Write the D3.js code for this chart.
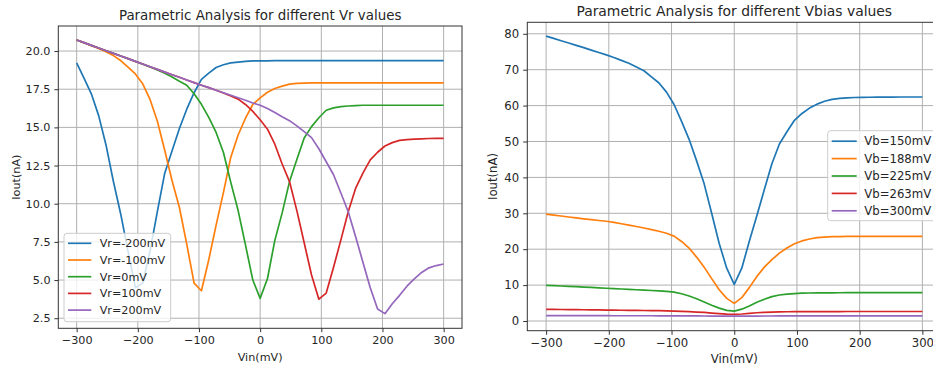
<!DOCTYPE html>
<html>
<head>
<meta charset="utf-8">
<script src="https://cdn.jsdelivr.net/npm/d3@7"></script>
<style>
body { margin: 0; background: #fff; }
svg text { font-family: "DejaVu Sans", sans-serif; fill: #262626; }
</style>
</head>
<body>
<svg id="chart" width="933" height="369"></svg>
<script>
// sweep points, Vin in mV
var vin = [-300,-288,-276,-264,-252,-240,-228,-216,-204,-192,-180,-168,-156,-144,-132,-120,-108,-96,-84,-72,-60,-48,-36,-24,-12,
           0,12,24,36,48,60,72,84,96,108,120,132,144,156,168,180,192,204,216,228,240,252,264,276,288,300];
var vinTicks = [-300,-200,-100,0,100,200,300];

// left panel: Iout(nA) for different Vr
var vrNames = ["Vr=-200mV","Vr=-100mV","Vr=0mV","Vr=100mV","Vr=200mV"];
var vrM200 = [19.23,18.22,17.2,15.77,13.85,11.47,9.33,6.9,4.5,4.8,6.9,9.5,12.0,13.47,14.93,16.19,17.27,18.14,18.55,18.92,19.1,19.22,19.28,19.32,19.35,
              19.36,19.36,19.37,19.37,19.37,19.37,19.37,19.37,19.37,19.37,19.37,19.37,19.37,19.37,19.37,19.37,19.37,19.37,19.37,19.37,19.37,19.37,19.37,19.37,19.37,19.37];
var vrM100 = [20.72,20.54,20.35,20.17,19.95,19.7,19.38,18.94,18.5,17.85,16.83,15.4,13.5,11.5,9.75,7.35,4.8,4.3,6.33,8.6,10.74,13.05,14.5,15.6,16.5,
              16.93,17.3,17.55,17.7,17.83,17.88,17.9,17.92,17.92,17.92,17.92,17.92,17.92,17.92,17.92,17.92,17.92,17.92,17.92,17.92,17.92,17.92,17.92,17.92,17.92,17.92];
var vr0 = [20.72,20.55,20.37,20.2,20.02,19.85,19.67,19.5,19.32,19.14,18.95,18.76,18.55,18.3,18.02,17.76,17.2,16.51,15.65,14.67,13.35,11.4,9.55,7.3,5.0,
           3.8,5.1,7.6,9.4,11.45,12.9,14.3,15.05,15.63,16.12,16.28,16.36,16.4,16.43,16.45,16.45,16.45,16.45,16.45,16.45,16.45,16.45,16.45,16.45,16.45,16.45];
var vr100 = [20.72,20.55,20.37,20.2,20.02,19.85,19.67,19.5,19.32,19.15,18.97,18.8,18.62,18.45,18.28,18.1,17.93,17.76,17.6,17.43,17.25,17.05,16.85,16.5,16.05,
             15.5,14.88,13.9,12.6,11.45,9.55,7.44,5.33,3.75,4.15,5.84,7.63,9.47,11.0,12.0,12.87,13.37,13.78,14.0,14.15,14.2,14.23,14.25,14.27,14.28,14.28];
var vr200 = [20.72,20.55,20.37,20.2,20.02,19.85,19.67,19.5,19.32,19.15,18.97,18.8,18.62,18.45,18.28,18.1,17.93,17.76,17.6,17.43,17.27,17.1,16.94,16.78,16.6,
             16.45,16.24,15.98,15.7,15.44,15.1,14.72,14.33,13.6,12.75,11.9,10.7,9.47,7.85,6.17,4.5,3.1,2.8,3.45,4.0,4.6,5.08,5.5,5.8,5.95,6.05];

// right panel: Iout(nA) for different Vbias
var vbNames = ["Vb=150mV","Vb=188mV","Vb=225mV","Vb=263mV","Vb=300mV"];
var vb150 = [79.35,78.71,78.07,77.43,76.79,76.13,75.46,74.79,74.12,73.4,72.6,71.8,70.75,69.7,68.0,66.3,63.75,60.3,55.6,50.6,44.6,38.2,30.0,21.6,14.7,
             10.2,14.7,22.2,29.3,36.6,43.8,49.3,52.7,55.9,57.8,59.3,60.4,61.2,61.75,62.0,62.15,62.25,62.3,62.33,62.35,62.37,62.38,62.4,62.4,62.4,62.4];
var vb188 = [29.77,29.5,29.25,28.97,28.7,28.47,28.25,28.0,27.78,27.45,27.08,26.7,26.33,25.9,25.45,25.0,24.45,23.65,22.15,20.3,17.8,15.0,11.8,8.7,6.3,
             4.9,6.5,9.3,12.4,15.0,17.1,18.9,20.35,21.5,22.3,22.85,23.2,23.37,23.48,23.52,23.55,23.56,23.57,23.58,23.58,23.59,23.6,23.6,23.6,23.6,23.6];
var vb225 = [9.95,9.85,9.75,9.65,9.55,9.45,9.35,9.25,9.13,9.03,8.92,8.81,8.7,8.6,8.49,8.38,8.27,8.05,7.6,6.95,6.2,5.3,4.4,3.6,2.95,
             2.75,3.3,4.2,5.2,6.05,6.8,7.25,7.5,7.65,7.75,7.8,7.83,7.85,7.86,7.87,7.88,7.9,7.9,7.9,7.9,7.9,7.9,7.9,7.9,7.9,7.9];
var vb263 = [3.25,3.23,3.2,3.18,3.15,3.13,3.1,3.08,3.05,3.03,3.0,2.98,2.95,2.92,2.9,2.87,2.83,2.78,2.7,2.6,2.5,2.38,2.22,2.05,1.9,
             1.85,1.95,2.12,2.3,2.42,2.5,2.55,2.58,2.6,2.62,2.63,2.64,2.64,2.64,2.64,2.65,2.65,2.65,2.65,2.65,2.65,2.65,2.65,2.65,2.65,2.65];
var vb300 = [1.5,1.5,1.5,1.49,1.49,1.49,1.48,1.48,1.48,1.47,1.47,1.47,1.46,1.46,1.46,1.45,1.45,1.44,1.43,1.42,1.41,1.39,1.38,1.36,1.35,
             1.34,1.35,1.36,1.38,1.39,1.4,1.41,1.42,1.42,1.43,1.43,1.43,1.43,1.43,1.43,1.43,1.43,1.43,1.43,1.43,1.43,1.43,1.43,1.43,1.43,1.43];

var colours = ["#1f77b4","#ff7f0e","#2ca02c","#d62728","#9467bd"];

var svg = d3.select("#chart");
svg.append("rect").attr("width", 933).attr("height", 369).attr("fill", "#fff");

function drawPanel(o) {
  var x = d3.scaleLinear().domain([-330, 330]).range([o.left, o.right]),
      y = d3.scaleLinear().domain(o.yDomain).range([o.bottom, o.top]);
  var g = svg.append("g");

  //Grid
  g.selectAll(".vgrid").data(vinTicks).enter().append("line")
    .attr("x1", function(d) { return x(d); })
    .attr("x2", function(d) { return x(d); })
    .attr("y1", o.top).attr("y2", o.bottom)
    .attr("stroke", "#b0b0b0").attr("stroke-width", 1);
  g.selectAll(".hgrid").data(o.yTicks).enter().append("line")
    .attr("x1", o.left).attr("x2", o.right)
    .attr("y1", function(d) { return y(d); })
    .attr("y2", function(d) { return y(d); })
    .attr("stroke", "#b0b0b0").attr("stroke-width", 1);

  //Curves
  var line = d3.line()
    .x(function(d, i) { return x(vin[i]); })
    .y(function(d) { return y(d); });
  g.selectAll(".curve").data(o.series).enter().append("path")
    .attr("d", line)
    .attr("fill", "none")
    .attr("stroke", function(d, i) { return colours[i]; })
    .attr("stroke-width", 1.7)
    .attr("stroke-linejoin", "round");

  //Frame
  g.append("rect")
    .attr("x", o.left).attr("y", o.top)
    .attr("width", o.right - o.left).attr("height", o.bottom - o.top)
    .attr("fill", "none").attr("stroke", "#333").attr("stroke-width", 1);

  //Axes
  var xAxis = g.append("g")
    .attr("transform", "translate(0," + o.bottom + ")")
    .call(d3.axisBottom(x).tickValues(vinTicks).tickSize(o.tick).tickPadding(o.tick));
  var yAxis = g.append("g")
    .attr("transform", "translate(" + o.left + ",0)")
    .call(d3.axisLeft(y).tickValues(o.yTicks).tickFormat(d3.format(o.yFormat)).tickSize(o.tick).tickPadding(o.tick));
  [xAxis, yAxis].forEach(function(a) {
    a.select(".domain").remove();
    a.selectAll("line").attr("stroke", "#333");
    a.selectAll("text").style("font-size", o.font + "px").attr("fill", "#262626");
  });

  //Labels
  g.append("text")
    .attr("x", (o.left + o.right) / 2).attr("y", o.titleY)
    .attr("text-anchor", "middle")
    .style("font-size", o.titleFont + "px")
    .text(o.title);
  g.append("text")
    .attr("x", (o.left + o.right) / 2).attr("y", o.xLabelY)
    .attr("text-anchor", "middle")
    .style("font-size", o.font + "px")
    .text("Vin(mV)");
  g.append("text")
    .attr("transform", "translate(" + o.yLabelX + "," + ((o.top + o.bottom) / 2) + ") rotate(-90)")
    .attr("text-anchor", "middle")
    .style("font-size", o.font + "px")
    .text("Iout(nA)");

  //Legend
  var L = o.legend;
  g.append("rect")
    .attr("x", L.x).attr("y", L.y).attr("width", L.w).attr("height", L.h)
    .attr("rx", 3)
    .attr("fill", "#fff").attr("fill-opacity", 0.8)
    .attr("stroke", "#cccccc").attr("stroke-width", 1);
  var item = g.selectAll(".leg").data(o.names).enter().append("g")
    .attr("transform", function(d, i) { return "translate(" + L.x + "," + (L.row0 + i * L.step) + ")"; });
  item.append("line")
    .attr("x1", L.lx1).attr("x2", L.lx2)
    .attr("stroke", function(d, i) { return colours[i]; })
    .attr("stroke-width", 1.7);
  item.append("text")
    .attr("x", L.tx).attr("y", 0).attr("dy", "0.35em")
    .style("font-size", o.font + "px")
    .text(function(d) { return d; });
}

drawPanel({
  left: 58.3, right: 462, top: 26, bottom: 328.3,
  yDomain: [1.84, 21.64], yTicks: [2.5,5,7.5,10,12.5,15,17.5,20], yFormat: ".1f",
  series: [vrM200, vrM100, vr0, vr100, vr200], names: vrNames,
  font: 11.2, titleFont: 13.4, tick: 3.9, titleY: 19.5, xLabelY: 361, yLabelX: 19.5,
  title: "Parametric Analysis for different Vr values",
  legend: {x: 64, y: 233.3, w: 106.7, h: 88.4, row0: 243.3, step: 16.7, lx1: 4, lx2: 27.3, tx: 35.7}
});

drawPanel({
  left: 527.3, right: 941.2, top: 22.3, bottom: 330.7,
  yDomain: [-2.7, 83.2], yTicks: [0,10,20,30,40,50,60,70,80], yFormat: "d",
  series: [vb150, vb188, vb225, vb263, vb300], names: vbNames,
  font: 11.7, titleFont: 13.9, tick: 4.1, titleY: 15.5, xLabelY: 362.5, yLabelX: 497,
  title: "Parametric Analysis for different Vbias values",
  legend: {x: 827.7, y: 130.7, w: 120, h: 90, row0: 141.2, step: 17.4, lx1: 4, lx2: 29, tx: 36.6}
});
</script>
</body>
</html>
